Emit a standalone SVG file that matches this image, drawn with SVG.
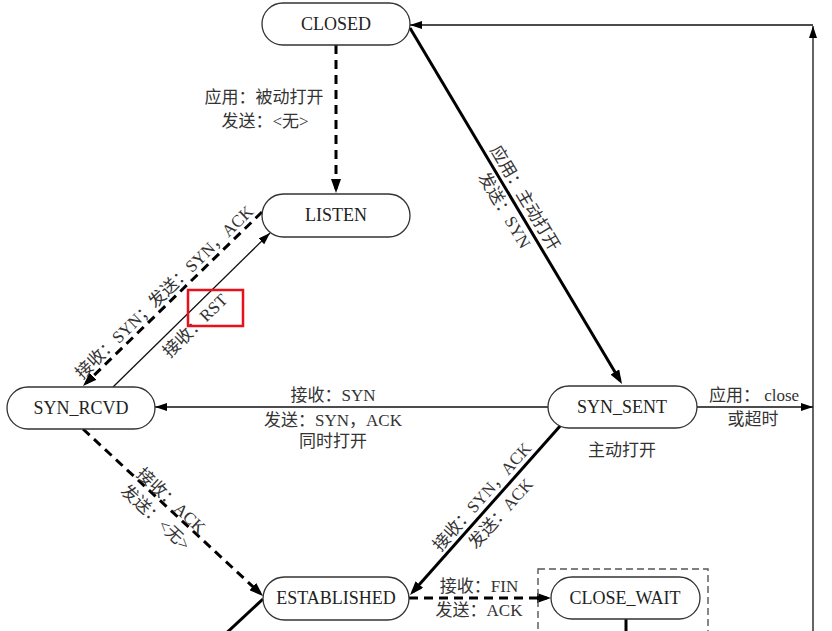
<svg xmlns="http://www.w3.org/2000/svg" width="832" height="631" viewBox="0 0 832 631">
<style>
.node rect{fill:#fff;stroke:#333;stroke-width:1.3}
.node text{font-family:"Liberation Serif","Noto Sans CJK SC",serif;font-size:18px;fill:#222;text-anchor:middle}
.lbl{font-family:"Liberation Serif","Noto Sans CJK SC",serif;font-size:17px;fill:#333;text-anchor:middle}
.thin{stroke:#111;stroke-width:1.3;fill:none}
.thick{stroke:#000;stroke-width:3;fill:none}
.dash{stroke-dasharray:9,6}
</style>
<defs>
<marker id="ah" viewBox="0 0 14 10" refX="10" refY="5" markerWidth="14" markerHeight="10" orient="auto" markerUnits="userSpaceOnUse"><path d="M0,0 L14,5 L0,10 z" fill="#000"/></marker>
<marker id="as" viewBox="0 0 12 8" refX="12" refY="4" markerWidth="12" markerHeight="8" orient="auto" markerUnits="userSpaceOnUse"><path d="M0,0 L12,4 L0,8 z" fill="#000"/></marker>
</defs>
<rect width="832" height="631" fill="#fff"/>
<g id="connectors">
<line class="thick dash" x1="336" y1="45" x2="336" y2="189" marker-end="url(#ah)"/>
<line class="thick dash" x1="262" y1="212" x2="85.9" y2="383.2" marker-end="url(#ah)"/>
<line class="thin" x1="113" y1="387" x2="270" y2="233" marker-end="url(#as)"/>
<line class="thin" x1="548" y1="407" x2="155" y2="407" marker-end="url(#as)"/>
<line class="thick" x1="410" y1="28" x2="620" y2="380.6" marker-end="url(#ah)"/>
<line class="thick" x1="561" y1="425" x2="412.7" y2="592" marker-end="url(#ah)"/>
<line class="thick dash" x1="83" y1="429" x2="260.1" y2="593.3" marker-end="url(#ah)"/>
<line class="thick dash" x1="409" y1="598" x2="547" y2="598" marker-end="url(#ah)"/>
<line class="thin" x1="697" y1="407" x2="813" y2="407" marker-end="url(#as)"/>
<line class="thin" x1="813" y1="640" x2="813" y2="26" marker-end="url(#as)"/>
<line class="thin" x1="813" y1="25" x2="410" y2="25" marker-end="url(#as)"/>
<line class="thick" x1="263" y1="599" x2="220" y2="639"/>
<line class="thick" x1="626" y1="619" x2="626" y2="640"/>
<rect x="538" y="569" width="170" height="80" fill="none" stroke="#555" stroke-width="1.4" stroke-dasharray="7,4"/>
</g>
<g id="labels">
<text class="lbl" x="264" y="103">应用：被动打开</text>
<text class="lbl" x="265" y="127">发送：&lt;无&gt;</text>
<text class="lbl" transform="translate(164,292) rotate(-44.2)" x="0" y="6">接收：SYN；发送：SYN，ACK</text>
<text class="lbl" transform="translate(195,325.5) rotate(-44.4)" x="0" y="6">接收：RST</text>
<g transform="translate(515,204) rotate(59.2)">
<text class="lbl" x="0" y="-6">应用：主动打开</text>
<text class="lbl" x="0" y="18">发送：SYN</text>
</g>
<text class="lbl" x="333" y="401">接收：SYN</text>
<text class="lbl" x="333" y="426">发送：SYN，ACK</text>
<text class="lbl" x="333" y="447">同时打开</text>
<text class="lbl" x="754" y="401">应用： close</text>
<text class="lbl" x="753" y="425">或超时</text>
<text class="lbl" x="622" y="456">主动打开</text>
<g transform="translate(490,504) rotate(-48.4)">
<text class="lbl" x="0" y="-5">接收：SYN，ACK</text>
<text class="lbl" x="0" y="20">发送：ACK</text>
</g>
<g transform="translate(166.6,505.5) rotate(42.9)">
<text class="lbl" x="0" y="-1">接收：ACK</text>
<text class="lbl" x="0" y="22">发送：&lt;无&gt;</text>
</g>
<text class="lbl" x="479" y="592">接收：FIN</text>
<text class="lbl" x="479" y="616">发送：ACK</text>
</g>
<rect x="188" y="290" width="55" height="36" fill="none" stroke="#e8101a" stroke-width="2.5"/>
<g id="CLOSED" class="node"><rect x="262" y="3" width="148" height="42" rx="21"/><text x="336" y="30">CLOSED</text></g>
<g id="LISTEN" class="node"><rect x="262" y="194" width="148" height="43" rx="21.5"/><text x="336" y="221">LISTEN</text></g>
<g id="SYN_RCVD" class="node"><rect x="7" y="387" width="148" height="42" rx="21"/><text x="81" y="414">SYN_RCVD</text></g>
<g id="SYN_SENT" class="node"><rect x="548" y="386" width="149" height="42" rx="21"/><text x="622" y="413">SYN_SENT</text></g>
<g id="ESTABLISHED" class="node"><rect x="263" y="577" width="146" height="43" rx="21.5"/><text x="336" y="604">ESTABLISHED</text></g>
<g id="CLOSE_WAIT" class="node"><rect x="551" y="577" width="149" height="42" rx="21"/><text x="625" y="604">CLOSE_WAIT</text></g>
</svg>
